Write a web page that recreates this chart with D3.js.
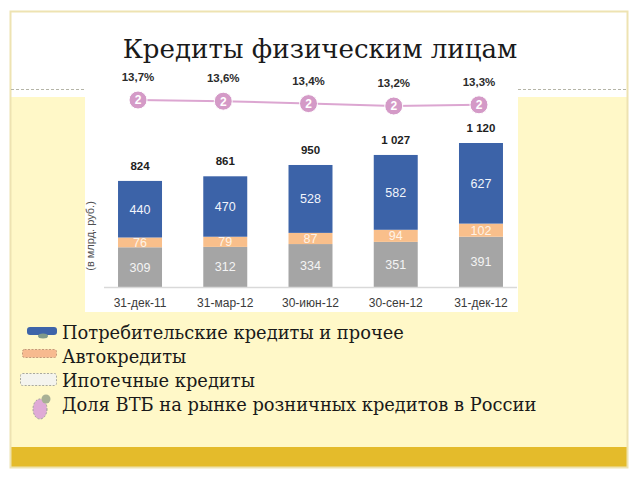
<!DOCTYPE html>
<html>
<head>
<meta charset="utf-8">
<script src="https://cdn.jsdelivr.net/npm/d3@7"></script>
<style>
  body { margin: 0; background: #fff; }
  svg { display: block; }
</style>
</head>
<body>
<svg id="chart" width="640" height="480"></svg>
<script>
var categories = ["31-дек-11", "31-мар-12", "30-июн-12", "30-сен-12", "31-дек-12"];
var mortgage = [309, 312, 334, 351, 391];
var auto = [76, 79, 87, 94, 102];
var consumer = [440, 470, 528, 582, 627];
var totals = ["824", "861", "950", "1 027", "1 120"];
var share = [13.7, 13.6, 13.4, 13.2, 13.3];
var shareLabels = ["13,7%", "13,6%", "13,4%", "13,2%", "13,3%"];
var legendLabels = ["Потребительские кредиты и прочее", "Автокредиты", "Ипотечные кредиты", "Доля ВТБ на рынке розничных кредитов в России"];

var serif = "'DejaVu Serif', 'Liberation Serif', serif",
  sans = "'Liberation Sans', Arial, sans-serif";

var svg = d3.select("#chart");

// slide background
svg.append("rect").attr("x", 11).attr("y", 97).attr("width", 616).attr("height", 350).attr("fill", "#fff8c8");
svg.append("rect").attr("x", 85).attr("y", 62).attr("width", 433).attr("height", 250).attr("fill", "#fff");
svg.append("rect").attr("x", 10).attr("y", 447).attr("width", 618).attr("height", 21).attr("fill", "#e4bb2b");
svg.append("rect").attr("x", 10.5).attr("y", 11.5).attr("width", 617).attr("height", 456)
  .attr("fill", "none").attr("stroke", "#eee3b2").attr("stroke-width", 2);
[[11, 85], [518, 627]].forEach(function(s){
  svg.append("line").attr("x1", s[0]).attr("x2", s[1]).attr("y1", 89.5).attr("y2", 89.5)
    .attr("stroke", "#b5b5a8").attr("stroke-dasharray", "3,2");
});

var title = svg.append("text").attr("x", 320).attr("y", 58).attr("text-anchor", "middle")
  .style("font-family", serif).style("font-size", "28px").attr("fill", "#1a1a1a")
  .text("Кредиты физическим лицам");
var tw = title.node().getComputedTextLength();
title.style("font-size", (28 * 395 / tw) + "px");

var x = d3.scaleBand().domain(categories).range([97.4, 523.6]).paddingInner(0.484).paddingOuter(0.242),
  y = d3.scaleLinear().domain([0, 1120]).range([287, 143]),
  yShare = d3.scaleLinear().domain([13.2, 13.7]).range([106, 100]);

var rows = categories.map(function(c, i){
  return {cat: c, mortgage: mortgage[i], auto: auto[i], consumer: consumer[i]};
});
var keys = ["mortgage", "auto", "consumer"],
  colors = {mortgage: "#a5a5a5", auto: "#f9bf8b", consumer: "#3c63a8"},
  labelColors = {mortgage: "#f4f4f4", auto: "#fff3e6", consumer: "#f2f5fb"};
var series = d3.stack().keys(keys)(rows);

var g = svg.append("g");
series.forEach(function(s){
  g.selectAll("rect." + s.key).data(s).enter().append("rect")
    .attr("x", function(d){ return x(d.data.cat); })
    .attr("y", function(d){ return y(d[1]); })
    .attr("width", x.bandwidth())
    .attr("height", function(d){ return y(d[0]) - y(d[1]); })
    .attr("fill", colors[s.key]);
  g.selectAll("text." + s.key).data(s).enter().append("text")
    .attr("x", function(d){ return x(d.data.cat) + x.bandwidth() / 2; })
    .attr("y", function(d){ return (y(d[0]) + y(d[1])) / 2; })
    .attr("dy", "0.36em").attr("text-anchor", "middle")
    .style("font-family", sans).style("font-size", "12.5px")
    .attr("fill", labelColors[s.key])
    .text(function(d){ return d.data[s.key]; });
});

g.selectAll("text.total").data(rows).enter().append("text")
  .attr("x", function(d){ return x(d.cat) + x.bandwidth() / 2; })
  .attr("y", function(d){ return y(d.mortgage + d.auto + d.consumer) - 11; })
  .attr("text-anchor", "middle")
  .style("font-family", sans).style("font-size", "11.5px").style("font-weight", "bold")
  .attr("fill", "#1e1e1e")
  .text(function(d, i){ return totals[i]; });

var axis = svg.append("g").attr("transform", "translate(0,287.5)")
  .call(d3.axisBottom(x).tickSize(0).tickPadding(11));
axis.select(".domain").attr("stroke", "#d9d9d9").attr("stroke-width", 1.5).attr("d", "M104,0H517");
axis.selectAll("text").style("font-family", sans).style("font-size", "12px").attr("fill", "#3a3a3a");

svg.append("text").attr("transform", "translate(90,236) rotate(-90)")
  .attr("text-anchor", "middle").attr("dy", "0.35em")
  .style("font-family", sans).style("font-size", "11px").attr("fill", "#505050")
  .text("(в млрд. руб.)");

var cx = function(i){ return x(categories[i]) + x.bandwidth() / 2 - 2; };
var line = d3.line().x(function(d, i){ return cx(i); }).y(function(d){ return yShare(d); });
svg.append("path").datum(share).attr("d", line).attr("fill", "none")
  .attr("stroke", "#dca6d1").attr("stroke-width", 2);
var pts = svg.selectAll("g.pt").data(share).enter().append("g")
  .attr("transform", function(d, i){ return "translate(" + cx(i) + "," + yShare(d) + ")"; });
pts.append("circle").attr("r", 9).attr("fill", "#d49ac7").attr("stroke", "#fff").attr("stroke-width", 1);
pts.append("text").attr("text-anchor", "middle").attr("dy", "0.36em")
  .style("font-family", sans).style("font-size", "12px").style("font-weight", "bold")
  .attr("fill", "#fff").text("2");
pts.append("text").attr("text-anchor", "middle").attr("y", -19)
  .style("font-family", sans).style("font-size", "11.5px").style("font-weight", "bold")
  .attr("fill", "#2b2b2b").text(function(d, i){ return shareLabels[i]; });

// legend
var lg = svg.append("g");
lg.append("rect").attr("x", 27).attr("y", 327).attr("width", 30).attr("height", 8).attr("rx", 3).attr("fill", "#3e64a9");
lg.append("ellipse").attr("cx", 43).attr("cy", 336).attr("rx", 5).attr("ry", 2.5).attr("fill", "#7f9a8a");
lg.append("rect").attr("x", 22.5).attr("y", 349.5).attr("width", 34).attr("height", 8).attr("rx", 2)
  .attr("fill", "#f7ba8f").attr("stroke", "#c49a7a").attr("stroke-dasharray", "2,1.5");
lg.append("rect").attr("x", 20.5).attr("y", 373.5).attr("width", 36).attr("height", 12).attr("rx", 2)
  .attr("fill", "#f4f4ee").attr("stroke", "#a9a99f").attr("stroke-dasharray", "2,1.5");
lg.append("ellipse").attr("cx", 40).attr("cy", 409).attr("rx", 7).attr("ry", 10)
  .attr("fill", "#dfaad6").attr("stroke", "#9a9a9a").attr("stroke-dasharray", "2,1.5");
lg.append("circle").attr("cx", 46).attr("cy", 399).attr("r", 4.5).attr("fill", "#a8b095");

var lt = lg.selectAll("text").data(legendLabels).enter().append("text")
  .attr("x", 62).attr("y", function(d, i){ return 339 + i * 24; })
  .style("font-family", serif).style("font-size", "18px").attr("fill", "#1a1a1a")
  .text(function(d){ return d; });
var lw = lt.nodes()[0].getComputedTextLength();
lt.style("font-size", (18 * 342 / lw) + "px");
</script>
</body>
</html>
